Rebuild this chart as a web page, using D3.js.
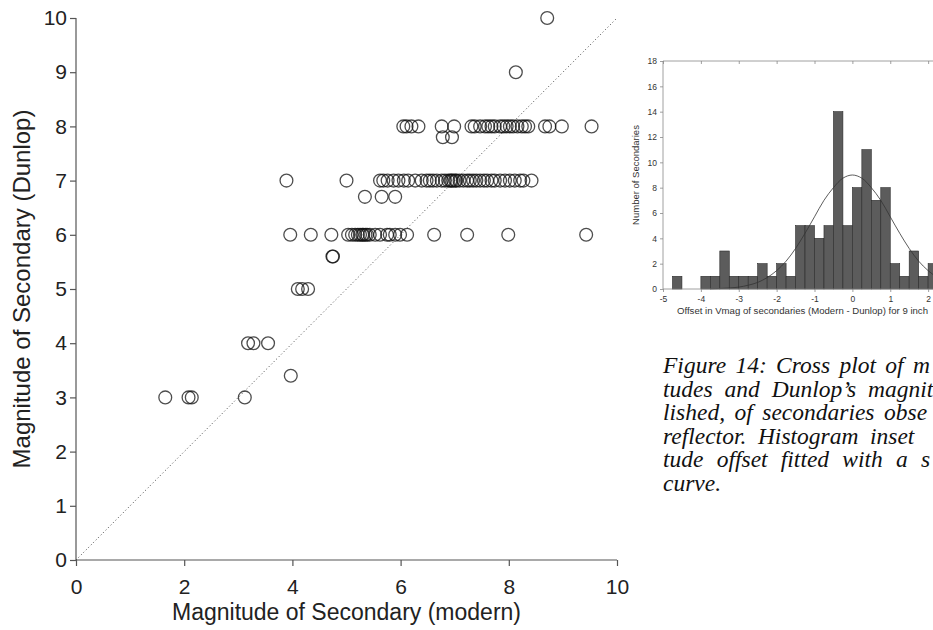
<!DOCTYPE html>
<html lang="en">
<head>
    <meta charset="UTF-8">
    <title>Cross plot of secondary magnitudes</title>
    <script src="https://d3js.org/d3.v7.min.js"></script>
    <style>
        body { margin: 0; background: #fff; }
        svg { display: block; font-family: "Liberation Sans", Arial, sans-serif; }
    </style>
</head>
<body>
    <div id="chart"></div>
    <script>
        // Scatter data: Dunlop magnitude rows and the modern magnitudes on each row
        const dunlopRows = [10, 9, 8, 7.8, 7, 6.7, 6, 5.6, 5, 4, 3.4, 3];
        const modernByRow = [
            [8.71],
            [8.13],
            [6.05, 6.11, 6.2, 6.33, 6.76, 6.99, 7.31, 7.37, 7.47, 7.56, 7.62, 7.68, 7.74, 7.84, 7.9, 7.96, 8.02, 8.08, 8.16, 8.24, 8.3, 8.36, 8.67, 8.75, 8.98, 9.53],
            [6.78, 6.95],
            [3.89, 5.0, 5.62, 5.68, 5.76, 5.87, 5.96, 6.06, 6.14, 6.27, 6.39, 6.48, 6.54, 6.6, 6.67, 6.76, 6.82, 6.88, 6.92, 6.94, 6.97, 7.01, 7.03, 7.09, 7.16, 7.23, 7.28, 7.34, 7.4, 7.47, 7.54, 7.6, 7.68, 7.74, 7.84, 7.93, 8.02, 8.11, 8.21, 8.27, 8.42],
            [5.34, 5.65, 5.9],
            [3.96, 4.34, 4.72, 5.03, 5.1, 5.16, 5.21, 5.25, 5.29, 5.31, 5.35, 5.38, 5.43, 5.53, 5.62, 5.75, 5.8, 5.9, 5.99, 6.12, 6.62, 7.23, 7.99, 9.43],
            [4.74, 4.75],
            [4.1, 4.18, 4.29],
            [3.18, 3.28, 3.55],
            [3.97],
            [1.65, 2.08, 2.14, 3.12]
        ];
        const xTicks = [0, 2, 4, 6, 8, 10];
        const yTicks = [0, 1, 2, 3, 4, 5, 6, 7, 8, 9, 10];

        // Histogram inset: bin starts (width 0.25) and counts
        const binStarts = [-4.75, -4.5, -4.25, -4, -3.75, -3.5, -3.25, -3, -2.75, -2.5, -2.25, -2, -1.75, -1.5, -1.25, -1, -0.75, -0.5, -0.25, 0, 0.25, 0.5, 0.75, 1, 1.25, 1.5, 1.75, 2];
        const binCounts = [1, 0, 0, 1, 1, 3, 1, 1, 1, 2, 1, 2, 1, 5, 5, 4, 5, 14, 5, 8, 11, 7, 8, 2, 1, 3, 1, 2];
        const binWidth = 0.25;
        // fitted normal curve
        const curveX = [-3.75, -3.5, -3.25, -3, -2.75, -2.5, -2.25, -2, -1.75, -1.5, -1.25, -1, -0.75, -0.5, -0.25, 0, 0.25, 0.5, 0.75, 1, 1.25, 1.5, 1.75, 2, 2.25, 2.5, 2.75, 3];
        const curveY = [0.01, 0.04, 0.08, 0.15, 0.3, 0.52, 0.9, 1.45, 2.2, 3.2, 4.4, 5.7, 7.0, 8.0, 8.75, 9.0, 8.75, 8.0, 7.0, 5.7, 4.4, 3.2, 2.2, 1.45, 0.9, 0.52, 0.3, 0.15];
        const histXTicks = [-5, -4, -3, -2, -1, 0, 1, 2];
        const histYTicks = [0, 2, 4, 6, 8, 10, 12, 14, 16, 18];

        const captionLines = [
            "Figure 14: Cross plot of m",
            "tudes and Dunlop\u2019s magnit",
            "lished, of secondaries obse",
            "reflector. Histogram inset",
            "tude offset fitted with a s",
            "curve."
        ];
        // where the last word of each justified line starts
        const lastWordX = [913, 868, 884, 870, 921, null];

        const W = 933, H = 630;
        const svg = d3.select("#chart").append("svg")
            .attr("width", W)
            .attr("height", H);

        // ---- main scatter ----
        const x = d3.scaleLinear().domain([0, 10]).range([76, 617]);
        const y = d3.scaleLinear().domain([0, 10]).range([560, 18]);

        const points = [];
        dunlopRows.forEach((d, i) => modernByRow[i].forEach(m => points.push({ m: m, d: d })));

        const axisColor = "#555";

        const gx = svg.append("g")
            .attr("transform", `translate(0,${y(0)})`)
            .call(d3.axisBottom(x).tickValues(xTicks).tickSize(6).tickPadding(13).tickFormat(d => String(d)));
        const gy = svg.append("g")
            .attr("transform", `translate(${x(0)},0)`)
            .call(d3.axisLeft(y).tickValues(yTicks).tickSize(6).tickPadding(3).tickFormat(d => String(d)));
        [gx, gy].forEach(g => {
            g.select(".domain").attr("stroke", axisColor).attr("stroke-width", 1.2);
            g.selectAll(".tick line").attr("stroke", axisColor).attr("stroke-width", 1.2);
            g.selectAll(".tick text").attr("fill", "#222").attr("font-size", 21)
                .attr("font-family", "Liberation Sans, Arial, sans-serif");
        });
        gx.select(".domain").attr("d", `M${x(0)},0H${x(10)}`);
        gy.select(".domain").attr("d", `M0,${y(0)}V${y(10)}`);

        // 1:1 line
        svg.append("line")
            .attr("x1", x(0)).attr("y1", y(0))
            .attr("x2", x(10)).attr("y2", y(10))
            .attr("stroke", "#444")
            .attr("stroke-width", 1)
            .attr("stroke-dasharray", "1,2.5");

        svg.append("g").selectAll("circle")
            .data(points)
            .join("circle")
            .attr("cx", p => x(p.m))
            .attr("cy", p => y(p.d))
            .attr("r", 6.4)
            .attr("fill", "none")
            .attr("stroke", "#111")
            .attr("stroke-opacity", 0.75)
            .attr("stroke-width", 1.3);

        svg.append("text")
            .attr("x", (x(0) + x(10)) / 2)
            .attr("y", 620)
            .attr("text-anchor", "middle")
            .attr("font-size", 23)
            .attr("fill", "#222")
            .text("Magnitude of Secondary (modern)");

        svg.append("text")
            .attr("transform", `translate(30,${(y(0) + y(10)) / 2}) rotate(-90)`)
            .attr("text-anchor", "middle")
            .attr("font-size", 24)
            .attr("fill", "#222")
            .text("Magnitude of Secondary (Dunlop)");

        // ---- histogram inset ----
        const hx = d3.scaleLinear().domain([-5, 3]).range([663, 966]);
        const hy = d3.scaleLinear().domain([0, 18]).range([289, 61]);
        const inset = svg.append("g");

        inset.selectAll("rect")
            .data(binStarts.map((s, i) => ({ s: s, c: binCounts[i] })).filter(b => b.c > 0))
            .join("rect")
            .attr("x", b => hx(b.s))
            .attr("y", b => hy(b.c))
            .attr("width", b => hx(b.s + binWidth) - hx(b.s))
            .attr("height", b => hy(0) - hy(b.c))
            .attr("fill", "#5c5c5c")
            .attr("stroke", "#2a2a2a")
            .attr("stroke-width", 0.6);

        const line = d3.line()
            .x((d, i) => hx(curveX[i]))
            .y(d => hy(d))
            .curve(d3.curveCatmullRom);
        inset.append("path")
            .datum(curveY)
            .attr("fill", "none")
            .attr("stroke", "#333")
            .attr("stroke-width", 0.8)
            .attr("d", line);

        const hgx = inset.append("g")
            .attr("transform", `translate(0,${hy(0)})`)
            .call(d3.axisBottom(hx).tickValues(histXTicks).tickSize(3).tickPadding(4).tickFormat(d => String(d)));
        const hgTop = inset.append("g")
            .attr("transform", `translate(0,${hy(18)})`)
            .call(d3.axisBottom(hx).tickValues(histXTicks).tickSize(3).tickFormat(""));
        const hgy = inset.append("g")
            .attr("transform", `translate(${hx(-5)},0)`)
            .call(d3.axisLeft(hy).tickValues(histYTicks).tickSize(3).tickPadding(3).tickFormat(d => String(d)));
        [hgx, hgTop, hgy].forEach(g => {
            g.select(".domain").attr("stroke", "#888").attr("stroke-width", 0.8);
            g.selectAll(".tick line").attr("stroke", "#888").attr("stroke-width", 0.8);
            g.selectAll(".tick text").attr("fill", "#333").attr("font-size", 8.5)
                .attr("font-family", "Liberation Sans, Arial, sans-serif");
        });
        hgx.select(".domain").attr("d", `M${hx(-5)},0H${hx(3)}`);
        hgTop.select(".domain").attr("d", `M${hx(-5)},0H${hx(3)}`);
        hgy.select(".domain").attr("d", `M0,${hy(0)}V${hy(18)}`);

        inset.append("text")
            .attr("x", 677)
            .attr("y", 314)
            .attr("font-size", 9.6)
            .attr("fill", "#333")
            .text("Offset in Vmag of secondaries (Modern - Dunlop) for 9 inch");

        inset.append("text")
            .attr("transform", `translate(639,${hy(9)}) rotate(-90)`)
            .attr("text-anchor", "middle")
            .attr("font-size", 9.5)
            .attr("fill", "#333")
            .text("Number of Secondaries");

        // ---- caption (justified by widening the word spaces) ----
        const captionX = 663;
        const caption = svg.append("g")
            .attr("font-family", "Liberation Serif, 'Times New Roman', serif")
            .attr("font-style", "italic")
            .attr("font-size", 23.5)
            .attr("fill", "#111");
        captionLines.forEach((txt, i) => {
            const t = caption.append("text")
                .attr("x", captionX)
                .attr("y", 373 + i * 23.5)
                .text(txt);
            if (lastWordX[i] === null) return;
            const words = txt.split(" ");
            const head = words.slice(0, -1).join(" ") + " ";
            const probe = caption.append("text").attr("xml:space", "preserve").text(head);
            const natural = probe.node().getComputedTextLength();
            probe.remove();
            const gaps = words.length - 1;
            t.attr("word-spacing", Math.max(0, ((lastWordX[i] - captionX) - natural) / gaps));
        });
    </script>
</body>
</html>
